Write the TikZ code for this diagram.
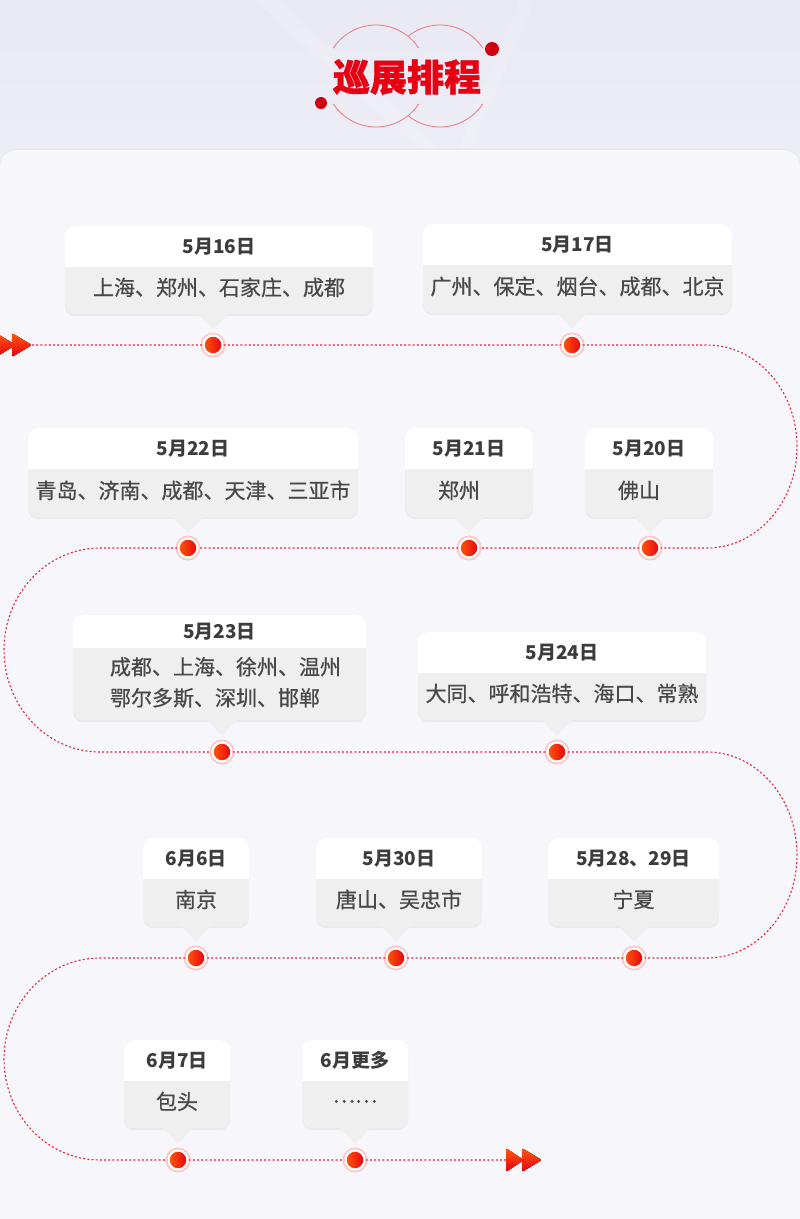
\documentclass[tikz,border=0pt]{standalone}
\usepackage{fontspec}
\setmainfont{Noto Sans CJK SC}
\newfontfamily\cityfont[FakeBold=0.6]{Noto Sans CJK SC}
\newfontfamily\titlefont[FakeBold=1.2]{Noto Sans CJK SC}
\usetikzlibrary{positioning, shadows}

\definecolor{tourred}{HTML}{E60012}
\definecolor{dotorange}{HTML}{FF5A0A}
\definecolor{cardgray}{HTML}{EFEFEF}
\definecolor{textdark}{HTML}{3C3C3C}
\definecolor{textgray}{HTML}{484848}
\definecolor{bgtop}{HTML}{E8E9F3}
\definecolor{bgmid}{HTML}{EEEEF6}
\definecolor{panelbg}{HTML}{F7F7FB}

% card: name, top point, width, height, white part height, date
\newcommand{\tourcard}[6]{%
    \node[cardbox, minimum width=#3, minimum height=#4, anchor=north] (#1) at #2 {};
    \node[datebox, minimum width=#3, minimum height=#5+12pt, anchor=north] (#1top) at (#1.north) {};
    \fill[cardgray] ([yshift=-#5]#1.north west) rectangle ([yshift=-#5-13pt]#1.north east);
    \node[datetext] (#1date) at ([yshift=-#5/2]#1.north) {#6};
}
% pointer of a card down to its dot
\newcommand{\cardtip}[2]{%
    \fill[tipbox] ([xshift=-16pt,yshift=1pt]#1.south -| #2) -- ([yshift=-15pt]#1.south -| #2) -- ([xshift=16pt,yshift=1pt]#1.south -| #2) -- cycle;
}

\begin{document}
\begin{tikzpicture}[
    x=1pt, y=-1pt,
    % Styles
    cardbox/.style={% grey card
        rectangle,
        rounded corners=10pt,
        fill=cardgray,
        inner sep=0pt,
        drop shadow={shadow xshift=0pt, shadow yshift=-2pt, opacity=.10},
    },
    datebox/.style={% white top of a card
        rectangle,
        rounded corners=10pt,
        fill=white,
        inner sep=0pt,
    },
    tipbox/.style={% card pointer
        fill=cardgray,
    },
    datetext/.style={
        font=\fontsize{19}{22}\selectfont\bfseries,
        text=textdark,
    },
    citytext/.style={
        font=\cityfont\fontsize{21}{31}\selectfont,
        text=textgray,
        align=left,
        inner sep=0pt,
    },
    tourdot/.style={% red stops on the track
        circle,
        minimum size=19pt,
        inner sep=0pt,
        left color=dotorange,
        right color=tourred,
        draw=white,
        line width=2.2pt,
        preaction={draw=red!22, line width=6pt},
    },
    track/.style={
        draw=tourred!85,
        line width=1.1pt,
        dash pattern=on 2pt off 2.2pt,
    },
    arrowhead/.style={
        rounded corners=2pt,
        top color=dotorange,
        bottom color=tourred,
    },
    titlering/.style={
        draw=tourred!55,
        line width=.8pt,
    },
    ]
    \useasboundingbox (0,0) rectangle (800,1219);

    % Background
    \shade[top color=bgtop, bottom color=bgmid] (0,0) rectangle (800,170);
    \fill[white, opacity=.15] (255,0) -- (280,0) -- (440,150) -- (420,150) -- cycle;
    \fill[white, opacity=.12] (520,0) -- (535,0) -- (470,150) -- (458,150) -- cycle;
    \fill[panelbg, rounded corners=16pt, drop shadow={shadow xshift=0pt, shadow yshift=1.5pt, opacity=.06}]
        (0,150) rectangle (800,1250);

    % Title
    \coordinate (ringl) at (376,76);
    \coordinate (ringr) at (440,76);
    \draw[titlering] ([shift={(-147:51)}]ringl) arc[start angle=-147, end angle=-33, radius=51];
    \draw[titlering] ([shift={(147:51)}]ringl) arc[start angle=147, end angle=33, radius=51];
    \draw[titlering] ([shift={(-128:51)}]ringr) arc[start angle=-128, end angle=-33, radius=51];
    \draw[titlering] ([shift={(128:51)}]ringr) arc[start angle=128, end angle=33, radius=51];
    \fill[tourred!90!black] (492,49) circle[radius=7];
    \fill[tourred!90!black] (321,103) circle[radius=6];
    \node[font=\titlefont\fontsize{37}{40}\selectfont\bfseries, text=tourred] (title) at (407,77) {巡展排程};

    % Stops
    \node[tourdot] (d1) at (213,345) {};
    \node[tourdot] (d2) at (572,345) {};
    \node[tourdot] (d3) at (650,548) {};
    \node[tourdot] (d4) at (469,548) {};
    \node[tourdot] (d5) at (188,548) {};
    \node[tourdot] (d6) at (222,752) {};
    \node[tourdot] (d7) at (557,752) {};
    \node[tourdot] (d8) at (634,958) {};
    \node[tourdot] (d9) at (396,958) {};
    \node[tourdot] (d10) at (196,958) {};
    \node[tourdot] (d11) at (178,1160) {};
    \node[tourdot] (d12) at (355,1160) {};

    % Track
    \coordinate (trackin) at (32,345);
    \coordinate (turn1) at (707,345);
    \coordinate (turn2) at (100,548);
    \coordinate (turn3) at (707,752);
    \coordinate (turn4) at (100,958);
    \coordinate (trackout) at (506,1160);
    \draw[track] (trackin) -- (d1) -- (d2) -- (turn1)
        arc[start angle=-90, end angle=90, x radius=90, y radius=101.5] -- (d3) -- (d4) -- (d5) -- (turn2)
        arc[start angle=-90, end angle=-270, x radius=96, y radius=102] -- (d6) -- (d7) -- (turn3)
        arc[start angle=-90, end angle=90, x radius=90, y radius=103] -- (d8) -- (d9) -- (d10) -- (turn4)
        arc[start angle=-90, end angle=-270, x radius=96, y radius=101] -- (d11) -- (d12) -- (trackout);

    % Arrows at both ends
    \fill[arrowhead] (trackin) ++(-36,-12) -- ++(20,12) -- ++(-20,12) -- cycle;
    \fill[arrowhead] (trackin) ++(-20,-12) -- ++(20,12) -- ++(-20,12) -- cycle;
    \fill[arrowhead] (trackout) ++(0,-12) -- ++(18,12) -- ++(-18,12) -- cycle;
    \fill[arrowhead] (trackout) ++(16,-12) -- ++(20,12) -- ++(-20,12) -- cycle;

    % Cards, row 1
    \tourcard{c1}{(219,226)}{308pt}{88pt}{41pt}{5月16日}
    \node[citytext] (c1city) at ([yshift=27pt]c1.south) {上海、郑州、石家庄、成都};
    \cardtip{c1}{d1}
    \tourcard{c2}{(577.5,224)}{309pt}{89pt}{41pt}{5月17日}
    \node[citytext] (c2city) at ([yshift=27pt]c2.south) {广州、保定、烟台、成都、北京};
    \cardtip{c2}{d2}

    % Cards, row 2
    \tourcard{c3}{(193,428)}{330pt}{89pt}{41pt}{5月22日}
    \node[citytext] (c3city) at ([yshift=27pt]c3.south) {青岛、济南、成都、天津、三亚市};
    \cardtip{c3}{d5}
    \tourcard{c4}{(469,428)}{128pt}{89pt}{41pt}{5月21日}
    \node[citytext] (c4city) at ([xshift=-10pt,yshift=27pt]c4.south) {郑州};
    \cardtip{c4}{d4}
    \tourcard{c5}{(649,428)}{128pt}{89pt}{41pt}{5月20日}
    \node[citytext] (c5city) at ([xshift=-10pt,yshift=27pt]c5.south) {佛山};
    \cardtip{c5}{d3}

    % Cards, row 3
    \tourcard{c6}{(219.5,615)}{293pt}{105pt}{33pt}{5月23日}
    \node[citytext, anchor=west] (c6city) at ([xshift=37pt,yshift=38pt]c6.south west) {成都、上海、徐州、温州\\鄂尔多斯、深圳、邯郸};
    \cardtip{c6}{d6}
    \tourcard{c7}{(562,632)}{288pt}{88pt}{41pt}{5月24日}
    \node[citytext] (c7city) at ([yshift=27pt]c7.south) {大同、呼和浩特、海口、常熟};
    \cardtip{c7}{d7}

    % Cards, row 4
    \tourcard{c8}{(196,838)}{106pt}{88pt}{41pt}{6月6日}
    \node[citytext] (c8city) at ([yshift=27pt]c8.south) {南京};
    \cardtip{c8}{d10}
    \tourcard{c9}{(399,838)}{166pt}{88pt}{41pt}{5月30日}
    \node[citytext] (c9city) at ([yshift=27pt]c9.south) {唐山、吴忠市};
    \cardtip{c9}{d9}
    \tourcard{c10}{(633.5,838)}{171pt}{88pt}{41pt}{5月28、29日}
    \node[citytext] (c10city) at ([yshift=27pt]c10.south) {宁夏};
    \cardtip{c10}{d8}

    % Cards, row 5
    \tourcard{c11}{(177,1040)}{106pt}{88pt}{41pt}{6月7日}
    \node[citytext] (c11city) at ([yshift=27pt]c11.south) {包头};
    \cardtip{c11}{d11}
    \tourcard{c12}{(355,1040)}{106pt}{88pt}{41pt}{6月更多}
    \node[citytext] (c12city) at ([yshift=27pt]c12.south) {……};
    \cardtip{c12}{d12}

\end{tikzpicture}
\end{document}
